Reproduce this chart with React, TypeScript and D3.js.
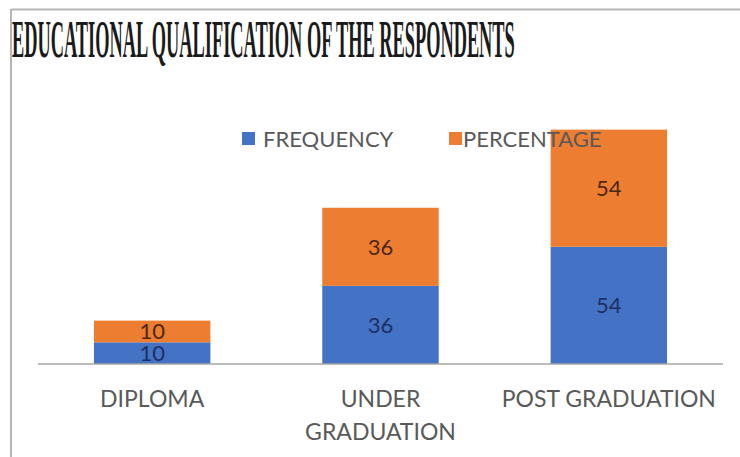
import React from "react";
import * as d3 from "d3";

// Respondents by educational qualification
const categories: string[][] = [["DIPLOMA"], ["UNDER", "GRADUATION"], ["POST GRADUATION"]];
const categoryKeys = ["DIPLOMA", "UNDER GRADUATION", "POST GRADUATION"];
const frequency = [10, 36, 54];
const percentage = [10, 36, 54];
const seriesNames = ["FREQUENCY", "PERCENTAGE"];
const title = "EDUCATIONAL QUALIFICATION OF THE RESPONDENTS";

const W = 740;
const H = 457;
const BLUE = "#4472C4";
const ORANGE = "#ED7D31";
const FONT = "Lato, 'Open Sans', sans-serif";
const TITLE_WIDTH = 503;

export default function App() {
  const titleRef = React.useRef<SVGTextElement>(null);
  const [titleScale, setTitleScale] = React.useState(0.4);

  // condense the heading horizontally to its target width
  React.useLayoutEffect(() => {
    if (titleRef.current) {
      const len = titleRef.current.getComputedTextLength();
      if (len > 0) setTitleScale(TITLE_WIDTH / len);
    }
  }, []);

  const x = d3
    .scaleBand<string>()
    .domain(categoryKeys)
    .range([38, 723])
    .paddingInner(0.49)
    .paddingOuter(0.245);
  const y = d3.scaleLinear().domain([0, 120]).range([364, 103.6]);

  const rows = categoryKeys.map((k, i) => ({ key: k, FREQUENCY: frequency[i], PERCENTAGE: percentage[i] }));
  const stacked = d3.stack<any>().keys(seriesNames)(rows);
  const colors = [BLUE, ORANGE];
  const labelColors = ["#1d2f63", "#4d2710"];

  return (
    <svg
      width={W}
      height={H}
      style={{ position: "absolute", left: 0, top: 0, background: "#fff" }}
    >
      {/* frame edges */}
      <line x1={11} y1={9.5} x2={W} y2={9.5} stroke="#b5b5b5" strokeWidth={2} />
      <line x1={11} y1={9} x2={11} y2={H} stroke="#b5b5b5" strokeWidth={2} />

      <g transform={`translate(12,57) scale(${titleScale},1)`}>
        <text
          ref={titleRef}
          x={0}
          y={0}
          fontFamily="'Liberation Serif', 'Times New Roman', serif"
          fontWeight="bold"
          fontSize={53}
          fill="#1a1a1a"
        >
          {title}
        </text>
      </g>

      {/* legend */}
      <rect x={242} y={132} width={13} height={13} fill={BLUE} />
      <text x={263} y={147} fontFamily={FONT} fontSize={22} fill="#595959">
        FREQUENCY
      </text>
      <rect x={449} y={132} width={13} height={13} fill={ORANGE} />

      {stacked.map((s, si) =>
        s.map((d, i) => (
          <rect
            key={`${si}-${i}`}
            x={x(categoryKeys[i])}
            y={y(d[1])}
            width={x.bandwidth()}
            height={y(d[0]) - y(d[1])}
            fill={colors[si]}
          />
        ))
      )}

      <text x={463} y={147} fontFamily={FONT} fontSize={22} fill="#595959">
        PERCENTAGE
      </text>

      {stacked.map((s, si) =>
        s.map((d, i) => (
          <text
            key={`l-${si}-${i}`}
            x={(x(categoryKeys[i]) as number) + x.bandwidth() / 2}
            y={(y(d[0]) + y(d[1])) / 2}
            dy="0.36em"
            textAnchor="middle"
            fontFamily={FONT}
            fontSize={22}
            fill={labelColors[si]}
          >
            {d[1] - d[0]}
          </text>
        ))
      )}

      {/* category axis */}
      <line x1={38} y1={364} x2={723} y2={364} stroke="#a6a6a6" strokeWidth={1.5} />
      {categories.map((lines, i) =>
        lines.map((ln, j) => (
          <text
            key={`c-${i}-${j}`}
            x={(x(categoryKeys[i]) as number) + x.bandwidth() / 2}
            y={407 + j * 33}
            textAnchor="middle"
            fontFamily={FONT}
            fontSize={23}
            fill="#595959"
          >
            {ln}
          </text>
        ))
      )}
    </svg>
  );
}
